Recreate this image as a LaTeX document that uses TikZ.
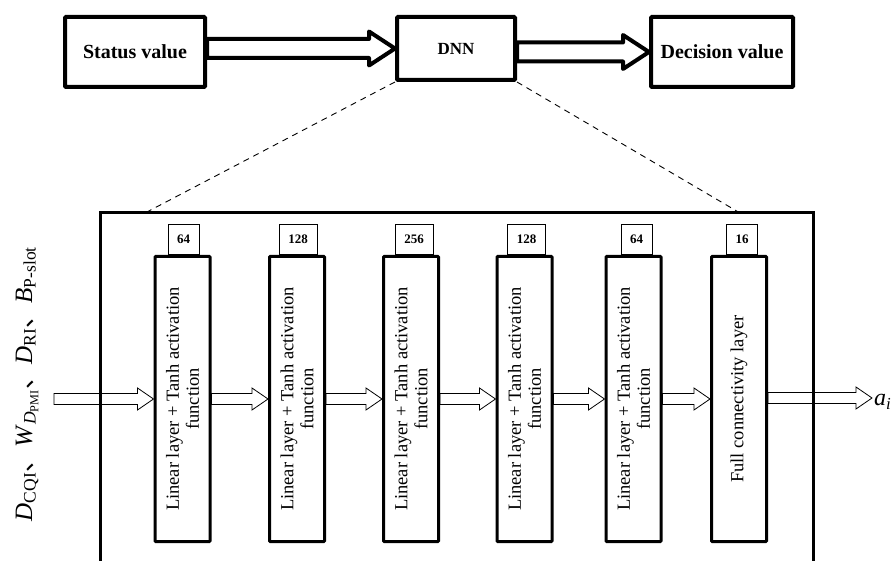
\documentclass[tikz,border=0pt]{standalone}
\usepackage{fontspec}
\newfontfamily\timesfont{Liberation Serif}
\newfontfamily\cjkfont{Noto Sans CJK SC}
\usetikzlibrary{calc}

% hollow block arrow: [style]{from}{tip}{half body}{half head}{head length}
\newcommand{\hollowarrow}[6][]{%
  \draw[#1] let \p1=(#2), \p2=(#3) in
    (\x1,\y2+#4) -- (\x2-#6,\y2+#4) -- (\x2-#6,\y2+#5) -- (\x2,\y2)
    -- (\x2-#6,\y2-#5) -- (\x2-#6,\y2-#4) -- (\x1,\y2-#4) -- cycle;}

\tikzset{
  topbox/.style={draw, line width=4pt, rounded corners=1pt, inner sep=0pt,
    font={\timesfont\bfseries\fontsize{20}{24}\selectfont}},
  toparrow/.style={line width=4pt, line join=round},
  layerbox/.style={draw, line width=3pt, rounded corners=0.8pt, inner sep=0pt,
    minimum width=55pt, minimum height=285pt},
  layertext/.style={rotate=90, align=center, inner sep=0pt,
    font={\timesfont\fontsize{18.5}{20}\selectfont}},
  numbox/.style={draw, line width=0.8pt, inner sep=0pt, minimum height=30pt,
    minimum width=31pt, anchor=south,
    font={\timesfont\bfseries\fontsize{13}{15}\selectfont}},
  thinarrow/.style={line width=0.8pt, line join=miter},
  frameline/.style={line width=3pt},
  zoomline/.style={line width=0.9pt, dash pattern=on 6pt off 5pt},
}

\begin{document}
\begin{tikzpicture}[x=1pt,y=-1pt]
\useasboundingbox (0,0) rectangle (895,561);

% top row: status -> DNN -> decision
\node[topbox, minimum width=140pt, minimum height=70pt] (status) at (135,52) {Status value};
\node[topbox, minimum width=118pt, minimum height=63pt,
      font={\timesfont\bfseries\fontsize{17}{20}\selectfont}] (dnn) at (456,48.5) {DNN};
\node[topbox, minimum width=142pt, minimum height=70pt] (decision) at (722,52) {Decision value};

\hollowarrow[toparrow]{status.east}{dnn.west}{9.5pt}{17pt}{26pt}
\hollowarrow[toparrow]{dnn.east}{decision.west}{9.5pt}{17pt}{26pt}

% frame around the expanded network (open at the bottom)
\coordinate (fl) at (145,213);
\coordinate (fr) at (740,213);
\draw[frameline] (100,575) -- (100,213) -- (813,213) -- (813,575);
\draw[zoomline] (dnn.south west) -- (fl);
\draw[zoomline] (dnn.south east) -- (fr);

% layers
\node[layerbox] (l1) at (182.5,399) {};
\node[layerbox] (l2) at (297,399) {};
\node[layerbox] (l3) at (411,399) {};
\node[layerbox] (l4) at (524.5,399) {};
\node[layerbox] (l5) at (633.5,399) {};
\node[layerbox] (l6) at (739,399) {};

\node[layertext] (t1) at (l1.center) {Linear layer + Tanh activation\\function};
\node[layertext] (t2) at (l2.center) {Linear layer + Tanh activation\\function};
\node[layertext] (t3) at (l3.center) {Linear layer + Tanh activation\\function};
\node[layertext] (t4) at (l4.center) {Linear layer + Tanh activation\\function};
\node[layertext] (t5) at (l5.center) {Linear layer + Tanh activation\\function};
\node[layertext] (t6) at (l6.center) {Full connectivity layer};

% layer widths
\node[numbox] (n1) at ($(l1.north)+(1,0)$) {64};
\node[numbox, minimum width=38pt] (n2) at ($(l2.north)+(1,0)$) {128};
\node[numbox, minimum width=38pt] (n3) at ($(l3.north)+(3,0)$) {256};
\node[numbox, minimum width=38pt] (n4) at ($(l4.north)+(2,0)$) {128};
\node[numbox] (n5) at ($(l5.north)+(3,0)$) {64};
\node[numbox] (n6) at ($(l6.north)+(3,0)$) {16};

% input, inter-layer and output arrows
\coordinate (inp) at (54,398);
\coordinate (outp) at (872,398);
\hollowarrow[thinarrow]{inp}{l1.west}{5.5pt}{11pt}{16pt}
\hollowarrow[thinarrow]{l1.east}{l2.west}{5.5pt}{11pt}{16pt}
\hollowarrow[thinarrow]{l2.east}{l3.west}{5.5pt}{11pt}{16pt}
\hollowarrow[thinarrow]{l3.east}{l4.west}{5.5pt}{11pt}{16pt}
\hollowarrow[thinarrow]{l4.east}{l5.west}{5.5pt}{11pt}{16pt}
\hollowarrow[thinarrow]{l5.east}{l6.west}{5.5pt}{11pt}{16pt}
\hollowarrow[thinarrow]{l6.east}{outp}{5.5pt}{11pt}{16pt}

% input state and output action
\node[rotate=90, anchor=base, inner sep=0pt,
      font={\timesfont\fontsize{25}{30}\selectfont}] (state) at (32,384)
  {\textit{D}\textsubscript{CQI}{\cjkfont 、}\textit{W}\textsubscript{\textit{D}\textsubscript{PMI}}{\cjkfont 、}\textit{D}\textsubscript{RI}{\cjkfont 、}\textit{B}\textsubscript{P-slot}};
\node[anchor=base west, inner sep=0pt,
      font={\timesfont\itshape\fontsize{24}{28}\selectfont}] (action) at (874,406)
  {a\textsubscript{i}};
\end{tikzpicture}
\end{document}
